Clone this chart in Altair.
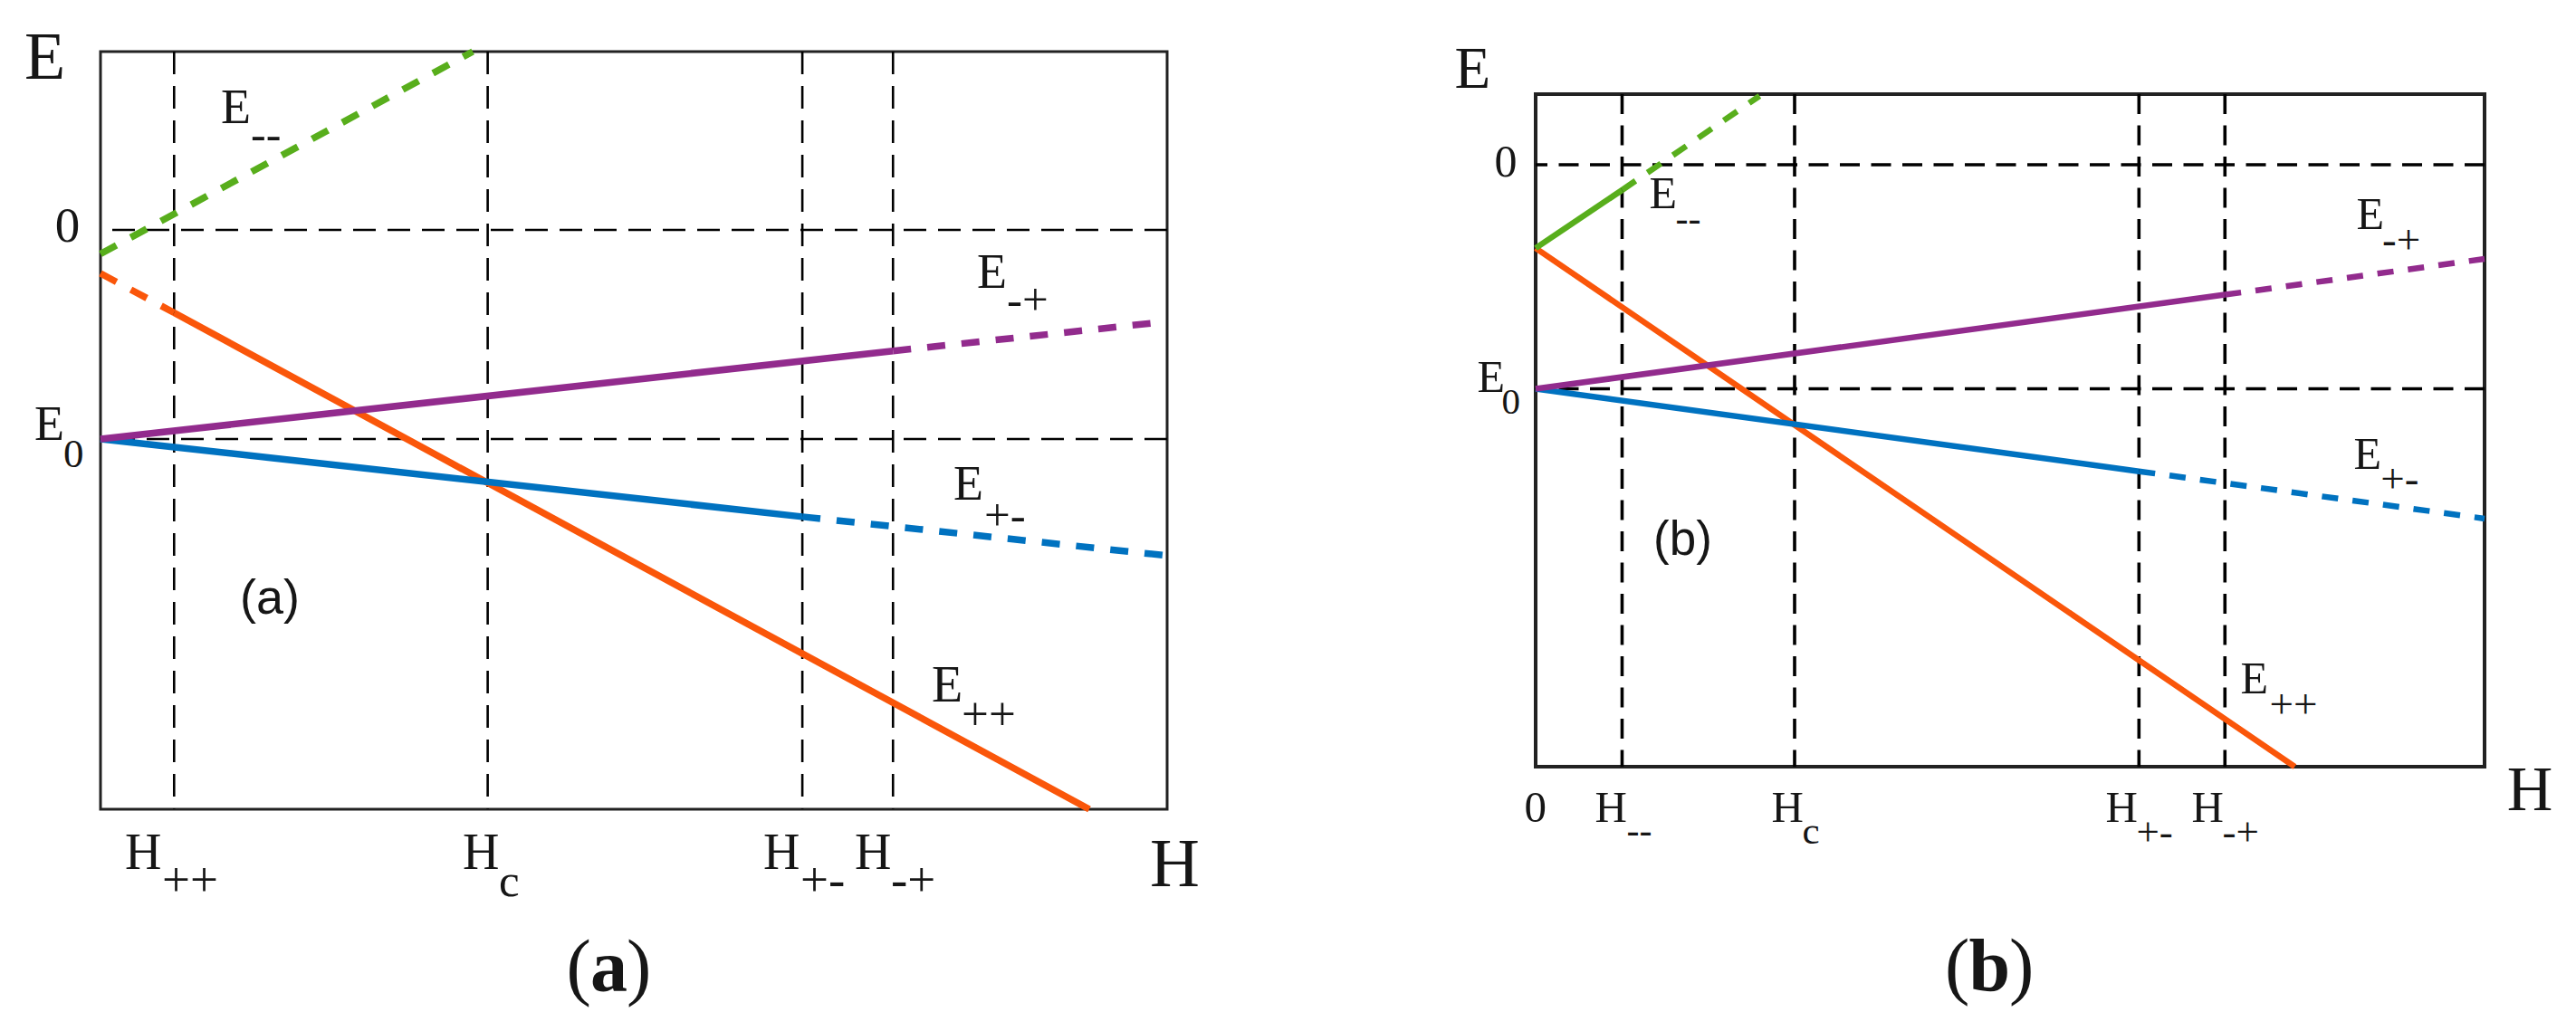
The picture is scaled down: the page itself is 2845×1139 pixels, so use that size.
import altair as alt
import pandas as pd

SERIF = "Liberation Serif"
SANS = "Liberation Sans"

# ---------------- colours of the four energy branches ----------------
SERIES = ["E++", "E+-", "E-+", "E--"]
SERIES_COLORS = {"E++": "#FA560A", "E+-": "#0072C0", "E-+": "#922B8D", "E--": "#58AE1C"}

# ---------------- panel (a) ----------------
A_VLINES = [0.69, 3.63, 6.58, 7.43]          # H++, Hc, H+-, H-+
A_HLINES = [0.0, -1.0]                       # 0, E0
A_EMM_H, A_EMM_E, A_EMM_STYLE = [0.0, 3.49], [-0.115, 0.853], ["dashed"]
A_EPP_H, A_EPP_E, A_EPP_STYLE = [0.0, 0.69, 9.27], [-0.208, -0.396, -2.771], ["dashed", "solid"]
A_EMP_H, A_EMP_E, A_EMP_STYLE = [0.0, 7.43, 9.86], [-1.0, -0.579, -0.446], ["solid", "dashed"]
A_EPM_H, A_EPM_E, A_EPM_STYLE = [0.0, 6.58, 10.0], [-1.0, -1.372, -1.558], ["solid", "dashed"]

# ---------------- panel (b) ----------------
B_VLINES = [0.911, 2.729, 6.358, 7.264]      # H--, Hc, H+-, H-+
B_HLINES = [0.0, -1.0]
B_EMM_H, B_EMM_E, B_EMM_STYLE = [0.0, 0.911, 2.36], [-0.372, -0.113, 0.307], ["solid", "dashed"]
B_EPP_H, B_EPP_E, B_EPP_STYLE = [0.0, 8.0], [-0.372, -2.686], ["solid"]
B_EMP_H, B_EMP_E, B_EMP_STYLE = [0.0, 7.264, 10.0], [-1.0, -0.580, -0.420], ["solid", "dashed"]
B_EPM_H, B_EPM_E, B_EPM_STYLE = [0.0, 6.358, 10.0], [-1.0, -1.368, -1.579], ["solid", "dashed"]

# ---------------- annotation texts (text, H, E, size, kind) ----------------
A_LABELS = [
    ("E", -0.713, 0.723, 74, "serif"),
    ("0", -0.427, -0.056, 55, "serif"),
    ("E", -0.620, -1.004, 54, "serif"),
    ("0", -0.348, -1.134, 45, "serif"),
    ("E", 1.129, 0.511, 54, "serif"),
    ("--", 1.409, 0.385, 50, "serif"),
    ("E", 8.217, -0.277, 54, "serif"),
    ("-+", 8.497, -0.407, 51, "serif"),
    ("E", 7.997, -1.290, 54, "serif"),
    ("+-", 8.285, -1.437, 51, "serif"),
    ("E", 7.793, -2.255, 56, "serif"),
    ("++", 8.073, -2.390, 53, "serif"),
    ("(a)", 1.307, -1.835, 54, "sans"),
    ("H", 0.229, -3.056, 56, "serif"),
    ("++", 0.577, -3.186, 55, "serif"),
    ("H", 3.396, -3.056, 56, "serif"),
    ("c", 3.735, -3.186, 51, "serif"),
    ("H", 6.214, -3.056, 56, "serif"),
    ("+-", 6.562, -3.186, 55, "serif"),
    ("H", 7.071, -3.056, 56, "serif"),
    ("-+", 7.411, -3.186, 55, "serif"),
    ("H", 9.839, -3.139, 76, "serif"),
    ("(", 4.368, -3.641, 82, "serif"),
    ("a", 4.593, -3.641, 82, "bold"),
    (")", 4.932, -3.641, 82, "serif"),
]
B_LABELS = [
    ("E", -0.854, 0.343, 65, "serif"),
    ("0", -0.434, -0.0525, 50, "serif"),
    ("E", -0.615, -1.014, 50, "serif"),
    ("0", -0.358, -1.111, 41, "serif"),
    ("E", 1.198, -0.194, 50, "serif"),
    ("--", 1.474, -0.295, 42, "serif"),
    ("E", 8.650, -0.287, 50, "serif"),
    ("-+", 8.922, -0.396, 47, "serif"),
    ("E", 8.621, -1.357, 50, "serif"),
    ("+-", 8.904, -1.462, 47, "serif"),
    ("E", 7.428, -2.359, 50, "serif"),
    ("++", 7.734, -2.468, 47, "serif"),
    ("(b)", 1.241, -1.741, 53, "sans"),
    ("0", -0.119, -2.932, 49, "serif"),
    ("H", 0.625, -2.932, 49, "serif"),
    ("--", 0.959, -3.027, 42, "serif"),
    ("H", 2.486, -2.932, 49, "serif"),
    ("c", 2.810, -3.029, 43, "serif"),
    ("H", 6.007, -2.932, 49, "serif"),
    ("+-", 6.331, -3.037, 45, "serif"),
    ("H", 6.913, -2.932, 49, "serif"),
    ("-+", 7.238, -3.037, 45, "serif"),
    ("H", 10.235, -2.880, 70, "serif"),
    ("(", 4.313, -3.683, 82, "serif"),
    ("b", 4.566, -3.683, 82, "bold"),
    (")", 4.990, -3.683, 82, "serif"),
]

FONT_KINDS = {"serif": (SERIF, "normal"), "bold": (SERIF, "bold"), "sans": (SANS, "normal")}


def segments_df(defs):
    rows = []
    seg = 0
    for name, hs, es, styles in defs:
        for i, st in enumerate(styles):
            seg += 1
            for j in (i, i + 1):
                rows.append({"series": name, "style": st, "seg": f"{name}_{seg}",
                             "H": hs[j], "E": es[j], "ord": j})
    return pd.DataFrame(rows)


def panel(defs, vlines, hlines, labels, width, height, ydom, line_w, dash,
          grid_w, grid_dash, frame_w):
    xs = alt.Scale(domain=[0, 10], nice=False, zero=False)
    ys = alt.Scale(domain=ydom, nice=False, zero=False)
    X = lambda f: alt.X(f, scale=xs, axis=None)
    Y = lambda f: alt.Y(f, scale=ys, axis=None)

    layers = [
        alt.Chart(pd.DataFrame({"H": vlines})).mark_rule(
            color="black", strokeWidth=grid_w, strokeDash=grid_dash).encode(x=X("H:Q")),
        alt.Chart(pd.DataFrame({"E": hlines})).mark_rule(
            color="black", strokeWidth=grid_w, strokeDash=grid_dash).encode(y=Y("E:Q")),
    ]
    df = segments_df(defs)
    for name in SERIES:
        sub = df[df["series"] == name]
        for style in ["solid", "dashed"]:
            s = sub[sub["style"] == style]
            if s.empty:
                continue
            kw = dict(color=SERIES_COLORS[name], strokeWidth=line_w, strokeCap="butt")
            if style == "dashed":
                kw["strokeDash"] = dash
            layers.append(alt.Chart(s).mark_line(**kw).encode(
                x=X("H:Q"), y=Y("E:Q"), detail="seg:N", order="ord:Q"))

    ldf = pd.DataFrame(labels, columns=["text", "H", "E", "size", "kind"])
    for kind, (fam, wt) in FONT_KINDS.items():
        g = ldf[ldf["kind"] == kind]
        if g.empty:
            continue
        layers.append(alt.Chart(g).mark_text(
            font=fam, fontWeight=wt, align="left", baseline="alphabetic", color="#161616"
        ).encode(x=X("H:Q"), y=Y("E:Q"), text="text:N",
                 size=alt.Size("size:Q", scale=None)))

    return alt.layer(*layers).properties(
        width=width, height=height,
        view=alt.ViewBackground(stroke="#222222", strokeWidth=frame_w, fill="white"))


pa = panel(
    [("E--", A_EMM_H, A_EMM_E, A_EMM_STYLE), ("E++", A_EPP_H, A_EPP_E, A_EPP_STYLE),
     ("E-+", A_EMP_H, A_EMP_E, A_EMP_STYLE), ("E+-", A_EPM_H, A_EPM_E, A_EPM_STYLE)],
    A_VLINES, A_HLINES, A_LABELS, 1178, 837, [-2.771, 0.853],
    7.5, [20, 18], 2.6, [25, 13], 3)

pb = panel(
    [("E--", B_EMM_H, B_EMM_E, B_EMM_STYLE), ("E++", B_EPP_H, B_EPP_E, B_EPP_STYLE),
     ("E-+", B_EMP_H, B_EMP_E, B_EMP_STYLE), ("E+-", B_EPM_H, B_EPM_E, B_EPM_STYLE)],
    B_VLINES, B_HLINES, B_LABELS, 1048, 743, [-2.686, 0.315],
    6.5, [18, 16], 3.6, [22, 12.5], 4)

chart = alt.hconcat(pa, pb, spacing=407, bounds="flush", center=True).resolve_scale(
    x="independent", y="independent"
).properties(
    padding={"left": 17, "top": 18, "right": 5, "bottom": 5}, background="white"
)

chart.save("out.html", embed_options={"renderer": "svg", "actions": False})
